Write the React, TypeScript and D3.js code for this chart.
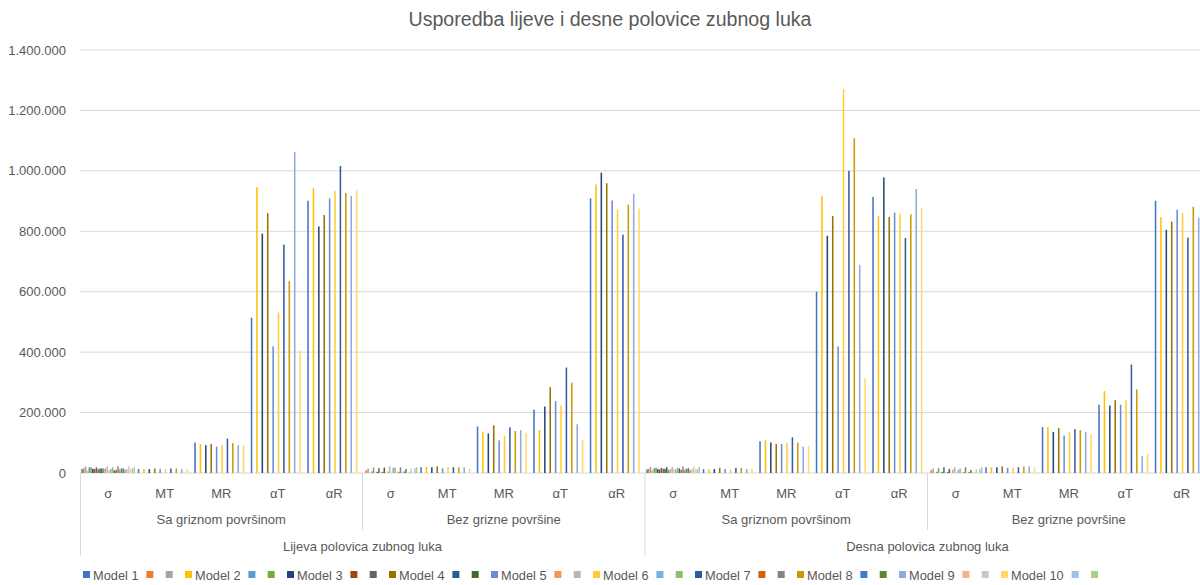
import React from 'react'
import * as d3 from 'd3'

// Kategorije
const halves = ['Lijeva polovica zubnog luka', 'Desna polovica zubnog luka']
const surfaces = ['Sa griznom površinom', 'Bez grizne površine']
const params = ['σ', 'MT', 'MR', 'αT', 'αR']

// 30 serija: svaka treca ima ime
const seriesNames = [
  'Model 1', '', '', 'Model 2', '', '', 'Model 3', '', '', 'Model 4', '', '',
  'Model 5', '', '', 'Model 6', '', '', 'Model 7', '', '', 'Model 8', '', '',
  'Model 9', '', '', 'Model 10', '', '',
]

const colors = [
  '#4472C4', '#ED7D31', '#A5A5A5', '#FFC000', '#5B9BD5', '#70AD47',
  '#264478', '#9E480E', '#636363', '#997300', '#255E91', '#43682B',
  '#698ED0', '#F1975A', '#B7B7B7', '#FFCD33', '#7CAFDD', '#8CC168',
  '#335AA1', '#D26012', '#848484', '#CC9A00', '#3C7DC4', '#5A8A39',
  '#8FAADC', '#F4B183', '#C9C9C9', '#FFD966', '#9DC3E6', '#A9D18E',
]

// Vrijednosti modela: LS(σ MT MR αT αR), LB(...), DS(...), DB(...)
const model1 = [13000, 13000, 101000, 514000, 901000, 0, 19000, 154000, 210000, 909000, 12000, 13000, 105000, 600000, 914000, 0, 19000, 152000, 226000, 901000]
const model2 = [8000, 13000, 96000, 946000, 943000, 0, 20000, 137000, 142000, 955000, 9000, 13000, 109000, 917000, 851000, 0, 19000, 152000, 271000, 847000]
const model3 = [14000, 13000, 92000, 792000, 816000, 0, 19000, 131000, 220000, 994000, 13000, 13000, 101000, 785000, 978000, 0, 19000, 136000, 223000, 805000]
const model4 = [12000, 15000, 96000, 860000, 854000, 0, 22000, 158000, 284000, 959000, 14000, 17000, 96000, 851000, 847000, 0, 22000, 149000, 241000, 832000]
const model5 = [15000, 13000, 87000, 419000, 909000, 0, 15000, 108000, 238000, 902000, 10000, 13000, 96000, 419000, 862000, 0, 17000, 124000, 226000, 871000]
const model6 = [10000, 13000, 92000, 531000, 934000, 0, 20000, 124000, 224000, 871000, 12000, 12000, 99000, 1270000, 858000, 0, 19000, 136000, 241000, 860000]
const model7 = [9000, 15000, 114000, 756000, 1016000, 0, 19000, 151000, 349000, 789000, 15000, 17000, 118000, 1000000, 778000, 0, 19000, 145000, 359000, 779000]
const model8 = [12000, 15000, 99000, 635000, 927000, 0, 19000, 139000, 299000, 888000, 11000, 17000, 101000, 1108000, 856000, 0, 22000, 142000, 277000, 881000]
const model9 = [11000, 13000, 92000, 1063000, 917000, 0, 19000, 142000, 161000, 924000, 10000, 13000, 87000, 689000, 940000, 0, 22000, 136000, 56000, 845000]
const model10 = [14000, 13000, 92000, 405000, 936000, 0, 15000, 132000, 108000, 875000, 13000, 13000, 89000, 313000, 877000, 0, 19000, 128000, 63000, 870000]
const models = [model1, model2, model3, model4, model5, model6, model7, model8, model9, model10]

// Neimenovane serije (samo σ), redom po seriji
const sigmaExtraLS = [15000, 22000, 19000, 19000, 13000, 19000, 15000, 15000, 15000, 22000, 13000, 19000, 11000, 22000, 15000, 15000, 13000, 22000, 15000, 19000]
const sigmaExtraLB = [10000, 15000, 5000, 18000, 4000, 16000, 4000, 18000, 5000, 22000, 18000, 18000, 4000, 19000, 5000, 13000, 4000, 15000, 16000, 19000]
const sigmaExtraDS = [14000, 20000, 16000, 18000, 12000, 17000, 14000, 19000, 13000, 20000, 12000, 18000, 10000, 21000, 14000, 16000, 12000, 20000, 13000, 20000]
const sigmaExtraDB = [10000, 15000, 4000, 16000, 3000, 19000, 3000, 13000, 11000, 19000, 10000, 15000, 3000, 19000, 3000, 10000, 3000, 13000, 13000, 19000]
const sigmaExtra = [sigmaExtraLS, sigmaExtraLB, sigmaExtraDS, sigmaExtraDB]

const yTicks = [0, 200000, 400000, 600000, 800000, 1000000, 1200000, 1400000]

const App = () => {
  const ref = React.useRef<SVGSVGElement | null>(null)

  React.useEffect(() => {
    document.body.style.margin = '0'
    const width = 1200
    const height = 585
    const left = 80
    const right = 1210
    const top = 50
    const bottom = 473
    const font = '"Liberation Sans", Arial, sans-serif'
    const textColor = '#595959'

    const cats: string[] = []
    halves.forEach((h) => surfaces.forEach((s) => params.forEach((p) => cats.push(`${h}|${s}|${p}`))))

    const x0 = d3.scaleBand().domain(cats).range([left, right]).paddingInner(0.045).paddingOuter(0.0225)
    const x1 = d3.scaleBand().domain(d3.range(30).map(String)).range([0, x0.bandwidth()])
    const y = d3.scaleLinear().domain([0, 1400000]).range([bottom, top])
    const fmt = d3.formatLocale({ decimal: ',', thousands: '.', grouping: [3], currency: ['', ''] }).format(',d')

    const valueOf = (ci: number, si: number) => {
      const g = Math.floor(ci / 5)
      const p = ci % 5
      if (si % 3 === 0) return models[si / 3][ci]
      if (p !== 0) return 0
      const u = Math.floor(si / 3) * 2 + (si % 3 - 1)
      return sigmaExtra[g][u]
    }

    const svg = d3.select(ref.current)
    svg.selectAll('*').remove()

    svg.append('rect').attr('width', width).attr('height', height).attr('fill', '#fff')

    // Naslov
    svg.append('text')
      .attr('x', 610).attr('y', 26)
      .attr('text-anchor', 'middle')
      .attr('font-family', font).attr('font-size', 19.6)
      .attr('fill', textColor)
      .text('Usporedba lijeve i desne polovice zubnog luka')

    // Mreza i os y
    const grid = svg.append('g')
    yTicks.forEach((t) => {
      grid.append('line')
        .attr('x1', left).attr('x2', width)
        .attr('y1', y(t)).attr('y2', y(t))
        .attr('stroke', '#D9D9D9').attr('stroke-width', 1)
      grid.append('text')
        .attr('x', 66).attr('y', y(t) + 4.5)
        .attr('text-anchor', 'end')
        .attr('font-family', font).attr('font-size', 13)
        .attr('fill', textColor)
        .text(fmt(t))
    })

    // Stupci
    const bars = svg.append('g')
    cats.forEach((c, ci) => {
      seriesNames.forEach((_, si) => {
        const v = valueOf(ci, si)
        if (!v) return
        bars.append('rect')
          .attr('x', (x0(c) || 0) + (x1(String(si)) || 0))
          .attr('y', y(v))
          .attr('width', x1.bandwidth() * 0.85)
          .attr('height', y(0) - y(v))
          .attr('fill', colors[si])
      })
    })

    // Os x (vise razina)
    const ax = svg.append('g')
    const step = x0.step()
    const start = left
    const sep = (xx: number, y2: number) =>
      ax.append('line').attr('x1', xx).attr('x2', xx).attr('y1', bottom).attr('y2', y2)
        .attr('stroke', '#D9D9D9').attr('stroke-width', 1)
    sep(start + 0.5, 556)
    sep(start + 5 * step, 530)
    sep(start + 10 * step, 556)
    sep(start + 15 * step, 530)

    const label = (xx: number, yy: number, t: string) =>
      ax.append('text').attr('x', xx).attr('y', yy)
        .attr('text-anchor', 'middle')
        .attr('font-family', font).attr('font-size', 13)
        .attr('fill', textColor).text(t)

    cats.forEach((c, ci) => {
      label(start + (ci + 0.5) * step, 498, params[ci % 5])
    })
    for (let i = 0; i < 4; i++) {
      label(start + (i * 5 + 2.5) * step, 524, surfaces[i % 2])
    }
    for (let i = 0; i < 2; i++) {
      label(start + (i * 10 + 5) * step, 551, halves[i])
    }

    // Legenda
    const lg = svg.append('g')
    let lx = 83
    seriesNames.forEach((name, si) => {
      lg.append('rect')
        .attr('x', lx).attr('y', 571)
        .attr('width', 7).attr('height', 7)
        .attr('fill', colors[si])
      if (name) {
        lg.append('text')
          .attr('x', lx + 10).attr('y', 579.5)
          .attr('font-family', font).attr('font-size', 12.8)
          .attr('fill', textColor).text(name)
        lx += 63.4 + (name.length - 7) * 7.3
      } else {
        lx += 19.3
      }
    })
  }, [])

  return <svg ref={ref} width={1200} height={585} style={{ display: 'block' }}></svg>
}

export default App
